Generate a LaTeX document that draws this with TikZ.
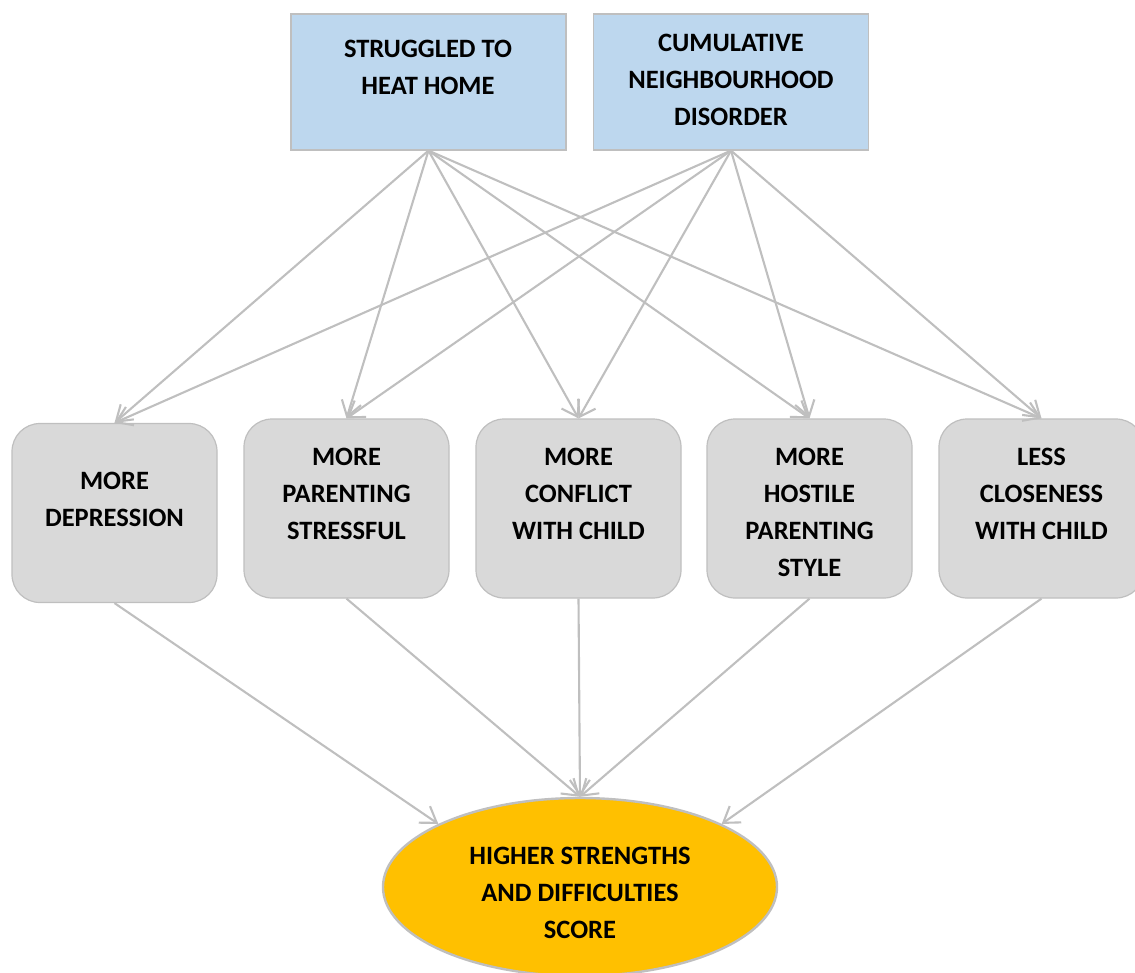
\documentclass[tikz,border=0pt]{standalone}
\usepackage{fontspec}
\setmainfont{Carlito}
\usetikzlibrary{arrows.meta,shapes.geometric}
\definecolor{edge}{HTML}{BFBFBF}
\definecolor{bluefill}{HTML}{BDD7EE}
\definecolor{grayfill}{HTML}{D9D9D9}
\definecolor{gold}{HTML}{FFC000}
\begin{document}
\begin{tikzpicture}[x=1pt,y=-1pt,
  lbl/.style={font=\fontsize{26.5}{37}\selectfont\bfseries, align=center, inner sep=0pt, text=black},
  topbox/.style={draw=edge, line width=1.2pt, fill=bluefill, minimum width=275pt, minimum height=136pt, inner sep=0pt},
  midbox/.style={draw=edge, line width=1.2pt, fill=grayfill, rounded corners=28pt, minimum width=205pt, minimum height=179pt, inner sep=0pt},
  outbox/.style={ellipse, draw=edge, line width=2.4pt, fill=gold, minimum width=394pt, minimum height=178pt, inner sep=0pt},
  link/.style={draw=edge, line width=2.1pt, -{Straight Barb[length=15pt,width=20pt]}}
]
\useasboundingbox (0,0) rectangle (1135,972);
\clip (0,0) rectangle (1135,972);

\node[topbox] (top1) at (428.5,82) {};
\node[topbox] (top2) at (731,82) {};

\node[midbox] (b1) at (114.5,513) {};
\node[midbox] (b2) at (346.5,508.5) {};
\node[midbox] (b3) at (578.5,508.5) {};
\node[midbox] (b4) at (809.5,508.5) {};
\node[midbox] (b5) at (1041.5,508.5) {};

\node[outbox] (out) at (580,887) {};

\node[lbl] (t1) at (428,67) {STRUGGLED TO\\HEAT HOME};
\node[lbl] (t2) at (731,80) {CUMULATIVE\\NEIGHBOURHOOD\\DISORDER};
\node[lbl] (m1) at (114.5,499) {MORE\\DEPRESSION};
\node[lbl] (m2) at (346.5,494) {MORE\\PARENTING\\STRESSFUL};
\node[lbl] (m3) at (578.5,494) {MORE\\CONFLICT\\WITH CHILD};
\node[lbl] (m4) at (809.5,512.5) {MORE\\HOSTILE\\PARENTING\\STYLE};
\node[lbl] (m5) at (1041.5,494) {LESS\\CLOSENESS\\WITH CHILD};
\node[lbl] (o) at (580,893) {HIGHER STRENGTHS\\AND DIFFICULTIES\\SCORE};

\foreach \s in {top1,top2}{
  \foreach \t in {b1,b2,b3,b4,b5}{
    \draw[link] (\s.south) -- (\t.north);
  }
}

\draw[link] (b1.south) -- (out.156);
\draw[link] (b2.south) -- (out.north);
\draw[link] (b3.south) -- (out.north);
\draw[link] (b4.south) -- (out.north);
\draw[link] (b5.south) -- (out.24);
\end{tikzpicture}
\end{document}
